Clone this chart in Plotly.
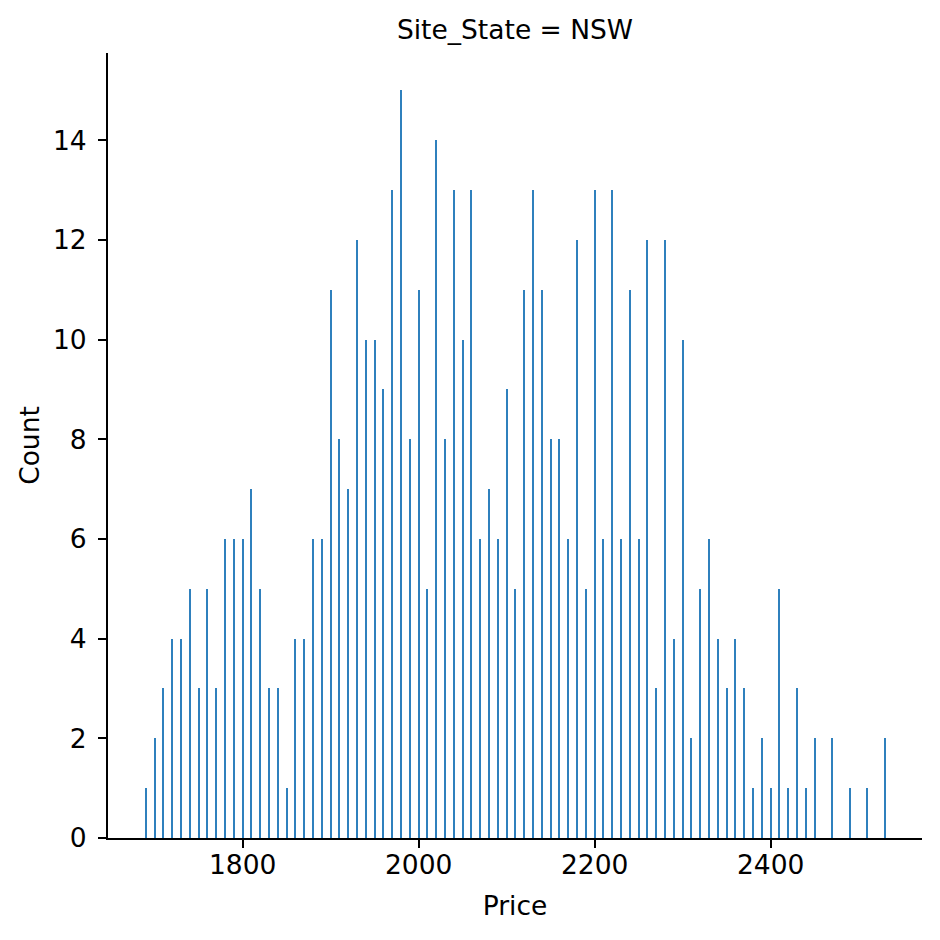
import plotly.graph_objects as go

prices = [
    1690, 1700, 1710, 1720, 1730, 1740, 1750, 1760, 1770, 1780,
    1790, 1800, 1810, 1820, 1830, 1840, 1850, 1860, 1870, 1880,
    1890, 1900, 1910, 1920, 1930, 1940, 1950, 1960, 1970, 1980,
    1990, 2000, 2010, 2020, 2030, 2040, 2050, 2060, 2070, 2080,
    2090, 2100, 2110, 2120, 2130, 2140, 2150, 2160, 2170, 2180,
    2190, 2200, 2210, 2220, 2230, 2240, 2250, 2260, 2270, 2280,
    2290, 2300, 2310, 2320, 2330, 2340, 2350, 2360, 2370, 2380,
    2390, 2400, 2410, 2420, 2430, 2440, 2450, 2460, 2470, 2480,
    2490, 2500, 2510, 2520, 2530,
]
counts = [
    1, 2, 3, 4, 4, 5, 3, 5, 3, 6,
    6, 6, 7, 5, 3, 3, 1, 4, 4, 6,
    6, 11, 8, 7, 12, 10, 10, 9, 13, 15,
    8, 11, 5, 14, 8, 13, 10, 13, 6, 7,
    6, 9, 5, 11, 13, 11, 8, 8, 6, 12,
    5, 13, 6, 13, 6, 11, 6, 12, 3, 12,
    4, 10, 2, 5, 6, 4, 3, 4, 3, 1,
    2, 1, 5, 1, 3, 1, 2, 0, 2, 0,
    1, 0, 1, 0, 2,
]

x_ticks = [1800, 2000, 2200, 2400]
y_ticks = [0, 2, 4, 6, 8, 10, 12, 14]

FONT = "DejaVu Sans"
FSIZE = 26.5

fig = go.Figure(
    go.Bar(
        x=prices,
        y=counts,
        width=1.2,
        marker=dict(color="#2f80bd", line=dict(width=0)),
        showlegend=False,
    )
)

axis_common = dict(
    showline=True,
    linecolor="black",
    linewidth=2,
    ticks="outside",
    ticklen=8,
    tickwidth=2,
    tickcolor="black",
    showgrid=False,
    zeroline=False,
    tickfont=dict(family=FONT, size=FSIZE, color="black"),
)

# la página tiene 8px de margen en el body: se compensa en los márgenes
fig.update_layout(
    width=940,
    height=940,
    paper_bgcolor="white",
    plot_bgcolor="white",
    margin=dict(l=100, r=26, t=45, b=110),
    font=dict(family=FONT, size=FSIZE, color="black"),
    bargap=0,
    title=dict(
        text="Site_State = NSW",
        x=0.5,
        xref="paper",
        xanchor="center",
        y=1 - 22 / 940,
        yref="container",
        yanchor="middle",
        font=dict(family=FONT, size=FSIZE, color="black"),
    ),
    xaxis=dict(
        axis_common,
        range=[1647, 2572],
        tickvals=x_ticks,
        ticklabelstandoff=-6,
        title=dict(text="Price", standoff=18, font=dict(family=FONT, size=FSIZE)),
    ),
    yaxis=dict(
        axis_common,
        range=[0, 15.75],
        tickvals=y_ticks,
        ticklabelstandoff=6,
        title=dict(text="Count", standoff=6, font=dict(family=FONT, size=FSIZE)),
    ),
)

fig.write_html("out.html")
